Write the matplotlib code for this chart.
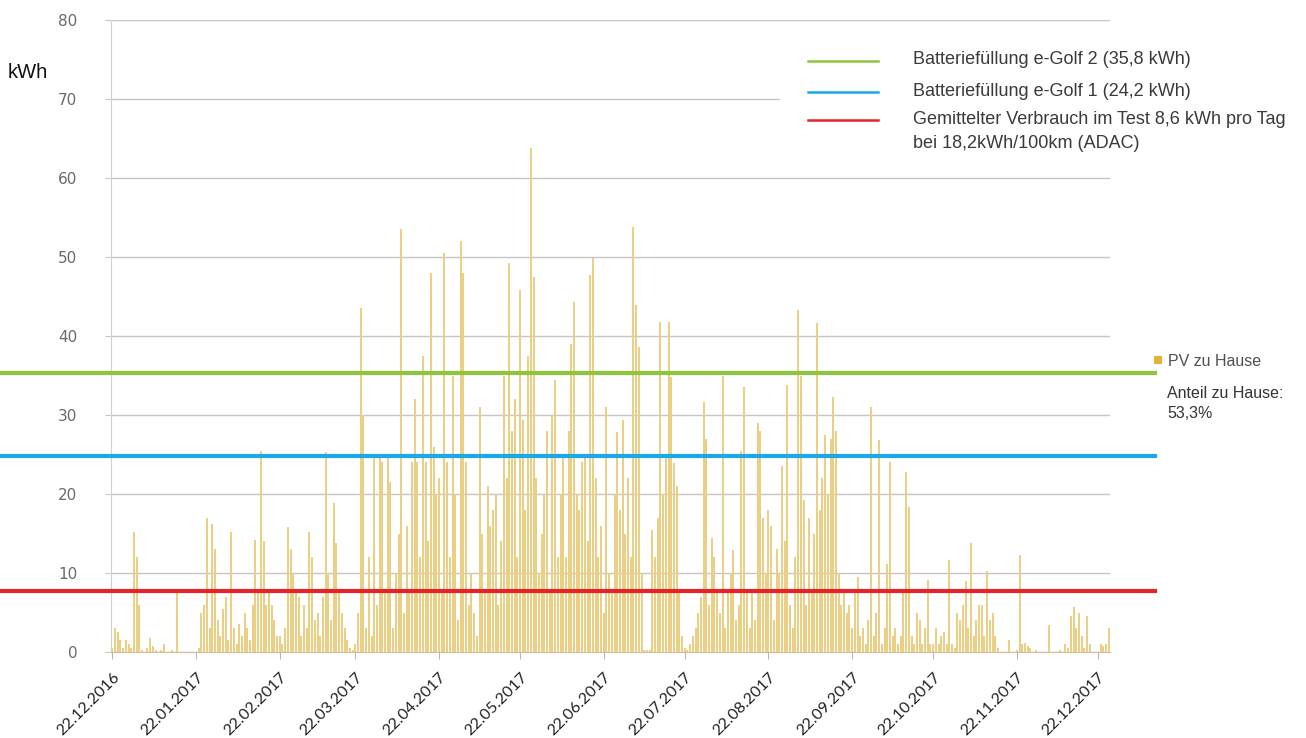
import matplotlib
matplotlib.use("Agg")
import matplotlib.pyplot as plt
import matplotlib.dates as mdates
from matplotlib.patches import Rectangle
from matplotlib.lines import Line2D
import pandas as pd
import numpy as np

# ---------------- data (daily PV kWh) ----------------
start_date = "2016-12-22"
seg_dec_jan = [0.5, 3, 2.5, 1.5, 0.5, 1.5, 1, 0.5, 15.2, 12, 6, 0.3, 0, 0.5, 1.8, 0.8,
               0.2, 0, 0.3, 1, 0, 0, 0.3, 0, 8, 0, 0, 0, 0, 0, 0]
seg_jan_feb = [0, 0.5, 5, 6, 17, 3, 16.2, 13, 4, 2, 5.5, 7, 1.5, 15.2, 3, 1, 3.5, 2, 5,
               3, 1.5, 6, 14.2, 8, 25.5, 14, 6, 8, 6, 4, 2]
seg_feb_mar = [2, 1, 3, 15.8, 13, 10, 8, 7, 2, 6, 3, 15.2, 12, 4, 5, 2, 7, 25.3, 10, 4,
               18.8, 13.8, 8, 5, 3, 1.5, 0.5, 0.3]
seg_mar_apr = [1, 5, 43.5, 30, 3, 12, 2, 24.5, 6, 24.5, 24, 8, 24.5, 21.5, 3, 10, 15,
               53.5, 5, 16, 8, 24, 32, 24, 12, 37.5, 24, 14, 48, 26, 20]
seg_apr_may = [22, 8, 50.5, 24, 12, 35, 20, 4, 52, 48, 24, 6, 10, 5, 2, 31, 15, 8, 21,
               16, 18, 20, 6, 14, 35, 22, 49.3, 28, 32, 12]
seg_may_jun = [45.8, 29.4, 18, 37.5, 63.8, 47.5, 22, 10, 15, 20, 28, 8, 30, 34.4, 12,
               20, 25, 12, 28, 39, 44.3, 20, 18, 24, 25, 14, 47.7, 49.9, 22, 12, 16]
seg_jun_jul = [5, 31, 10, 8, 20, 27.9, 18, 29.4, 15, 22, 12, 53.8, 43.9, 38.6, 10, 0.3,
               0.2, 0.3, 15.4, 12, 17, 41.8, 20, 25, 41.8, 34.8, 23.9, 21, 8, 2]
seg_jul_aug = [0.5, 0.3, 1, 2, 3, 5, 7, 31.7, 27, 6, 14.4, 12, 8, 5, 35, 3, 8, 10, 12.9,
               4, 6, 25.5, 33.6, 8, 3, 8, 4, 29, 28, 17, 10]
seg_aug_sep = [18, 16, 4, 13, 10, 23.5, 14, 33.8, 6, 3, 12, 43.3, 35, 19.3, 6, 17, 8,
               15, 41.7, 18, 22, 27.5, 20, 27, 32.3, 28, 10, 6, 8, 5, 6]
seg_sep_oct = [3, 8, 9.5, 2, 3, 1, 4, 31, 2, 5, 26.8, 1, 3, 11.2, 24.1, 2, 3, 1, 2, 8,
               22.8, 18.4, 2, 1, 5, 4, 1, 3, 9.1, 1]
seg_oct_nov = [1, 3, 1, 2, 2.5, 1, 11.6, 1, 0.5, 5, 4, 6, 9, 3, 13.8, 2, 4, 6, 6, 2,
               10.2, 4, 5, 2, 0.5, 0, 0, 0, 1.5, 0, 0]
seg_nov_dec = [0.2, 12.3, 1, 1.2, 0.8, 0.5, 0, 0.2, 0, 0, 0, 0, 3.4, 0, 0, 0, 0.3, 0, 1,
               0.5, 4.5, 5.7, 3, 5, 2, 0.5, 4.5, 1, 0, 0]
seg_dec_end = [0, 1, 0.8, 1, 3]

pv_values = (seg_dec_jan + seg_jan_feb + seg_feb_mar + seg_mar_apr + seg_apr_may +
             seg_may_jun + seg_jun_jul + seg_jul_aug + seg_aug_sep + seg_sep_oct +
             seg_oct_nov + seg_nov_dec + seg_dec_end)

tick_dates = ["2016-12-22", "2017-01-22", "2017-02-22", "2017-03-22", "2017-04-22",
              "2017-05-22", "2017-06-22", "2017-07-22", "2017-08-22", "2017-09-22",
              "2017-10-22", "2017-11-22", "2017-12-22"]
y_ticks = [0, 10, 20, 30, 40, 50, 60, 70, 80]

ref_labels = ["Batteriefüllung e-Golf 2 (35,8 kWh)",
              "Batteriefüllung e-Golf 1 (24,2 kWh)",
              "Gemittelter Verbrauch im Test 8,6 kWh pro Tag\nbei 18,2kWh/100km (ADAC)"]
ref_levels = [35.35, 24.8, 7.75]
ref_colors = ["#8cc63f", "#1ba8e6", "#e2252b"]

series_name = "PV zu Hause"
share_text = "Anteil zu Hause:\n53,3%"

# ---------------- figure ----------------
W, H = 1306, 738
fig = plt.figure(figsize=(W / 100, H / 100), dpi=100)
fig.patch.set_facecolor("white")

def fx(px):
    return px / W

def fy(py):
    return 1 - py / H

ax_l, ax_r, ax_t, ax_b = 111, 1110, 20, 652
ax = fig.add_axes([fx(ax_l), fy(ax_b), fx(ax_r - ax_l), fy(ax_t) - fy(ax_b)])

dates = pd.date_range(start_date, periods=len(pv_values), freq="D")
ax.bar(dates, pv_values, width=0.72, color="#ebcf85", linewidth=0, zorder=2)

x0 = pd.Timestamp(start_date) - pd.Timedelta(hours=12)
ax.set_xlim(x0, x0 + pd.Timedelta(days=370))
ax.set_ylim(0, 80)

# grid
ax.set_yticks(y_ticks)
ax.yaxis.grid(True, color="#c6c6c6", linewidth=1.0, zorder=0)
ax.set_axisbelow(True)
for s in ["top", "right"]:
    ax.spines[s].set_visible(False)
ax.spines["left"].set_color("#d0d0d0")
ax.spines["bottom"].set_color("#cdbf9d")
ax.spines["left"].set_zorder(1)

ax.tick_params(axis="y", length=4.3, color="#c6c6c6", pad=20, labelsize=11,
               labelcolor="#6a6a6a")
for lab in ax.get_yticklabels():
    lab.set_fontfamily("DejaVu Sans")

tdates = pd.to_datetime(tick_dates)
ax.set_xticks(tdates)
ax.xaxis.set_major_formatter(mdates.DateFormatter("%d.%m.%Y"))
ax.tick_params(axis="x", length=5, color="#b8b8b8", pad=8, labelsize=11.5,
               labelcolor="#222222")
for lab in ax.get_xticklabels():
    lab.set_rotation(45)
    lab.set_ha("right")
    lab.set_va("top")
    lab.set_rotation_mode("anchor")
    lab.set_fontfamily("Lato")

# reference lines extending beyond the plot area
axw = ax_r - ax_l
for lvl, col in zip(ref_levels, ref_colors):
    ax.axhline(lvl, xmin=(0 - ax_l) / axw, xmax=(1155 - ax_l) / axw, color=col,
               linewidth=3.0, clip_on=False, zorder=5)

# white legend box covering gridlines
fig.patches.append(Rectangle((fx(780), fy(168)), fx(1115 - 780), fy(33) - fy(168),
                             transform=fig.transFigure, facecolor="white",
                             edgecolor="none", zorder=3))

leg_line_y = [61, 92, 120]
leg_text_rows = [[58], [89], [117, 142]]
for lab, col, rows, ly in zip(ref_labels, ref_colors, leg_text_rows, leg_line_y):
    fig.add_artist(Line2D([fx(808), fx(878)], [fy(ly), fy(ly)], color=col,
                          linewidth=1.8, transform=fig.transFigure, zorder=6))
    for line_txt, ty in zip(lab.split("\n"), rows):
        fig.text(fx(913), fy(ty), line_txt, ha="left", va="center_baseline",
                 fontsize=13, family="Liberation Sans", color="#3a3a3a", zorder=6)

fig.text(fx(8), fy(73), "kWh", ha="left", va="center", fontsize=14.5,
         family="Liberation Sans", color="#111111")

# series legend + share text on the right
fig.patches.append(Rectangle((fx(1154), fy(364)), fx(8), fy(356) - fy(364),
                             transform=fig.transFigure, facecolor="#e2b23a",
                             edgecolor="none"))
fig.text(fx(1168), fy(360), series_name, ha="left", va="center_baseline",
         fontsize=11.5, family="Liberation Sans", color="#505050")
for line_txt, ty in zip(share_text.split("\n"), [392, 412]):
    fig.text(fx(1167), fy(ty), line_txt, ha="left", va="center_baseline",
             fontsize=11.5, family="Liberation Sans", color="#333333")

fig.savefig("out.png", dpi=100, facecolor="white")
